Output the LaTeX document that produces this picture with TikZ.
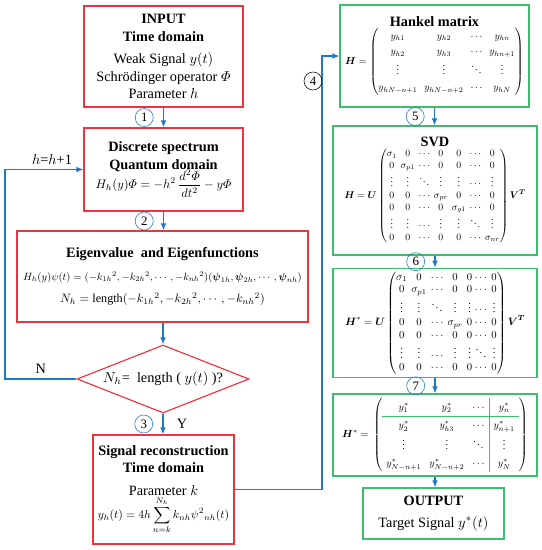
\documentclass[tikz,border=0pt]{standalone}
\usepackage{amsmath}
\usepackage{graphicx}
\usepackage{fontspec}
\setmainfont{Liberation Serif}
\usepackage{colortbl}
\usetikzlibrary{shapes.geometric,arrows.meta,positioning}
\definecolor{boxred}{RGB}{240,50,60}
\definecolor{boxgreen}{RGB}{60,190,110}
\definecolor{arrblue}{RGB}{30,120,200}
\newcommand{\bH}{\boldsymbol{H}}
\newcommand{\fitw}[2]{\resizebox{#1}{!}{#2}}

\begin{document}
\begin{tikzpicture}[x=0.7pt,y=-0.7pt,
  redbox/.style={draw=boxred,line width=0.8pt,align=center,inner sep=2pt},
  greenbox/.style={draw=boxgreen,line width=0.8pt,align=center,inner sep=2pt},
  flow/.style={draw=arrblue,line width=0.8pt,-{Latex[length=5pt,width=4pt]}},
  num/.style={circle,draw,thin,minimum size=12.6pt,inner sep=0pt,font=\small}]
\useasboundingbox (0,0) rectangle (542,550);
\node[redbox,minimum width=111.3pt,minimum height=70.7pt] (input) at (163.5,56.5)
  {\textbf{INPUT}\\ \textbf{Time domain}\\[4pt] Weak Signal $y(t)$\\ Schr\"odinger operator $\varPhi$\\ Parameter $h$};
\node[redbox,minimum width=111.3pt,minimum height=58.1pt] (spec) at (163.5,169.5)
  {\textbf{Discrete spectrum}\\ \textbf{Quantum domain}\\[-2pt] \fitw{95pt}{$H_h(y)\varPhi=-h^2\,\dfrac{d^2\varPhi}{dt^2}-y\varPhi$}};
\node[redbox,minimum width=203.7pt,minimum height=63.7pt] (eig) at (162.5,276.5)
  {\textbf{Eigenvalue\ \ and Eigenfunctions}\\[4pt]
   \fitw{195pt}{$H_h(y)\psi(t)=(-k_{1h}{}^2,-k_{2h}{}^2,\cdots,-k_{nh}{}^2)(\boldsymbol{\psi}_{1h},\boldsymbol{\psi}_{2h},\cdots,\boldsymbol{\psi}_{nh})$}\\[4pt]
   \scalebox{0.85}{$N_h=\mathrm{length}(-k_{1h}{}^2,-k_{2h}{}^2,\cdots,-k_{nh}{}^2)$}};
\node[draw=boxred,line width=0.8pt,diamond,aspect=2.5,minimum width=120.4pt,minimum height=47.6pt,inner sep=0pt] (cond) at (163,379)
  {$N_h$= \ length ( $y(t)$ )?};
\node[redbox,minimum width=98.7pt,minimum height=76.3pt] (recon) at (163.5,489.5)
  {\textbf{Signal reconstruction}\\ \textbf{Time domain}\\[4pt] Parameter $k$\\ \fitw{92pt}{$\displaystyle y_h(t)=4h\sum_{n=k}^{N_h}k_{nh}\psi^2{}_{nh}(t)$}};
\node[greenbox,minimum width=132.3pt,minimum height=71.4pt] (hankel) at (434.5,56)
  {\textbf{Hankel matrix}\\ \fitw{125pt}{$\bH=\renewcommand{\arraystretch}{1.3}\setlength{\arraycolsep}{3.5pt}\begin{pmatrix}
   y_{h1} & y_{h2} & \cdots & y_{hn}\\
   y_{h2} & y_{h3} & \cdots & y_{hn+1}\\
   \vdots & \vdots & \ddots & \vdots\\
   y_{hN-n+1} & y_{hN-n+2} & \cdots & y_{hN}\end{pmatrix}$}};
\node[greenbox,minimum width=142.8pt,minimum height=90.3pt] (svd) at (435,190.5)
  {\textbf{SVD}\\ \fitw{127pt}{$\bH=\boldsymbol{U}\setlength{\arraycolsep}{2pt}\begin{pmatrix}
   \sigma_1 & 0 & \cdots & 0 & 0 & \cdots & 0\\
   0 & \sigma_{p1} & \cdots & 0 & 0 & \cdots & 0\\
   \vdots & \vdots & \ddots & \vdots & \vdots & \cdots & \vdots\\
   0 & 0 & \cdots & \sigma_{pr} & 0 & \cdots & 0\\
   0 & 0 & \cdots & 0 & \sigma_{g1} & \cdots & 0\\
   \vdots & \vdots & \cdots & \vdots & \vdots & \ddots & \vdots\\
   0 & 0 & \cdots & 0 & 0 & \cdots & \sigma_{nr}\end{pmatrix}\boldsymbol{V}^{\boldsymbol{T}}$}};
\node[greenbox,minimum width=142.8pt,minimum height=75.6pt] (hstar) at (435,323)
  {\fitw{126pt}{$\bH^{*}=\boldsymbol{U}\setlength{\arraycolsep}{2pt}\begin{pmatrix}
   \sigma_1 & 0 & \cdots & 0 & 0 & \!\cdots\! & 0\\
   0 & \sigma_{p1} & \cdots & 0 & 0 & \!\cdots\! & 0\\
   \vdots & \vdots & \ddots & \vdots & \vdots & \!\cdots\! & \vdots\\
   0 & 0 & \cdots & \sigma_{pr} & 0 & \!\cdots\! & 0\\
   0 & 0 & \cdots & 0 & 0 & \!\cdots\! & 0\\
   \vdots & \vdots & \cdots & \vdots & \vdots & \!\ddots\! & \vdots\\
   0 & 0 & \cdots & 0 & 0 & \!\cdots\! & 0\end{pmatrix}\boldsymbol{V}^{\boldsymbol{T}}$}};
\node[greenbox,minimum width=142.8pt,minimum height=57.4pt] (hrec) at (435,435)
  {\fitw{130pt}{$\bH^{*}=\arrayrulecolor{boxgreen}\setlength{\arrayrulewidth}{1pt}\renewcommand{\arraystretch}{1.4}\setlength{\arraycolsep}{4pt}\left(\begin{array}{ccc|c}
   y_1^{*} & y_2^{*} & \cdots & y_n^{*}\\ \hline
   y_2^{*} & y_{h3}^{*} & \cdots & y_{n+1}^{*}\\
   \vdots & \vdots & \ddots & \vdots\\
   y_{N-n+1}^{*} & y_{N-n+2}^{*} & \cdots & y_N^{*}\end{array}\right)$}};
\node[greenbox,minimum width=98.7pt,minimum height=35.7pt] (output) at (433.5,513.5)
  {\textbf{OUTPUT}\\[3pt] Target Signal $y^{*}(t)$};
\coordinate (loopN) at (5,379);
\coordinate (up) at (322,489.5);
\draw[flow] (input) -- node[num,left=7pt] (n1) {1} (spec);
\draw[flow] (spec.south) -- node[num,left=7pt] (n2) {2} (spec.south |- eig.north);
\draw[flow] (cond.north |- eig.south) -- (cond.north);
\draw[flow] (cond.south) -- node[num,left=7pt] (n3) {3} node[right=6pt] (yes) {Y} (cond.south |- recon.north);
\draw[flow] (cond.west) -- node[above] (no) {N} (loopN) |- node[above,pos=0.8] (inc) {$h$=$h$+1} (spec.west);
\draw[flow] (recon.east) -- (up) |- (hankel.west);
\node[num] (n4) at (313,81) {4};
\draw[flow] (hankel.south) -- node[num,left=7pt] (n5) {5} (hankel.south |- svd.north);
\draw[flow] (svd.south) -- node[num,left=7pt] (n6) {6} (svd.south |- hstar.north);
\draw[flow] (hstar.south) -- node[num,left=7pt] (n7) {7} (hstar.south |- hrec.north);
\draw[flow] (hrec.south) -- (hrec.south |- output.north);
\end{tikzpicture}
\end{document}
